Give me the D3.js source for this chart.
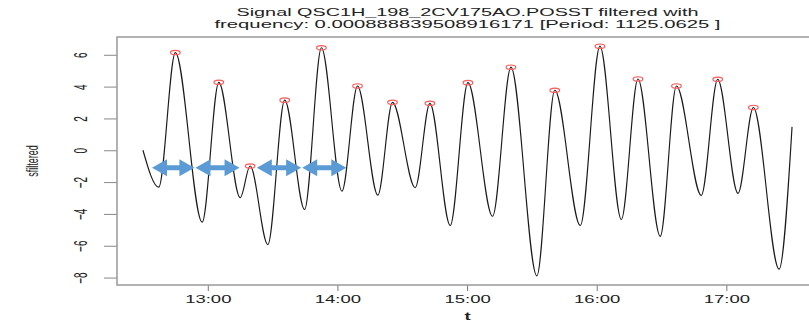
<!DOCTYPE html>
<html>
<head>
<meta charset="utf-8">
<script src="https://cdn.jsdelivr.net/npm/d3@7"></script>
<style>
  body { margin: 0; background: #fff; }
  svg { display: block; }
  text { font-family: "Liberation Sans", Arial, sans-serif; fill: #222; }
</style>
</head>
<body>
<div id="chart"></div>
<script>
// turning points of the filtered signal, minutes after 12:00
var tMinutes = [30, 37.3, 45.0, 57.4, 65.1, 75.0, 79.6, 87.8, 95.6, 104.8, 112.6,
  122.1, 129.3, 138.7, 145.5, 156.0, 162.8, 172.2, 180.4, 191.8, 200.3, 212.3,
  220.6, 232.4, 241.5, 251.4, 259.1, 269.4, 276.9, 288.4, 296.0, 305.4, 312.5,
  324.4, 330.4];
var sfiltered = [0.0, -2.32, 6.14, -4.52, 4.27, -2.98, -0.99, -5.93, 3.15, -3.72, 6.44,
  -2.57, 4.04, -2.82, 3.01, -2.35, 2.95, -4.73, 4.25, -4.15, 5.22, -7.89,
  3.77, -4.73, 6.54, -4.35, 4.48, -5.41, 4.04, -2.84, 4.46, -2.71, 2.69,
  -7.47, 1.47];

// blue period arrows (minutes after 12:00) and their level
var arrowFrom = [34.2, 54.3, 82.7, 103.7];
var arrowTo = [53.8, 74.7, 103.2, 124.1];
var arrowLevel = -1.1;

var yTicks = [-8, -6, -4, -2, 0, 2, 4, 6];
var titleLines = ['Signal QSC1H_198_2CV175AO.POSST filtered with',
  'frequency: 0.000888839508916171 [Period: 1125.0625 ]'];
var xLabel = 't', yLabel = 'sfiltered';

var width = 809, height = 322,
  box = {left: 117, right: 818, top: 37, bottom: 285},
  stretch = 1.85;

var base = new Date(2000, 0, 1, 12, 0, 0);
function toDate(m) { return new Date(base.getTime() + m * 60000); }

var data = tMinutes.map(function(m, i) {
  return {t: toDate(m), v: sfiltered[i]};
});

// R style axis padding of 4%
var tExt = d3.extent(tMinutes), vExt = d3.extent(sfiltered);
var tPad = (tExt[1] - tExt[0]) * 0.04, vPad = (vExt[1] - vExt[0]) * 0.04;

var x = d3.scaleTime()
  .domain([toDate(tExt[0] - tPad), toDate(tExt[1] + tPad)])
  .range([box.left, box.right]);
var y = d3.scaleLinear()
  .domain([vExt[0] - vPad, vExt[1] + vPad])
  .range([box.bottom, box.top]);

var svg = d3.select('#chart').append('svg')
  .attr('width', width).attr('height', height);

// title
svg.append('g').selectAll('text').data(titleLines).enter().append('text')
  .attr('x', (box.left + box.right) / 2)
  .attr('y', function(d, i) { return 16 + i * 12; })
  .attr('text-anchor', 'middle')
  .attr('font-size', 11)
  .attr('textLength', function(d, i) { return i === 0 ? 462 : 506; })
  .attr('lengthAdjust', 'spacingAndGlyphs')
  .text(function(d) { return d; });

// x axis
var xAxis = svg.append('g')
  .attr('transform', 'translate(0,' + box.bottom + ')')
  .call(d3.axisBottom(x).ticks(d3.timeHour.every(1))
    .tickFormat(d3.timeFormat('%H:%M')).tickSize(6).tickPadding(5));
xAxis.select('.domain').remove();
xAxis.selectAll('line').attr('stroke', '#777');
xAxis.selectAll('text')
  .attr('font-size', 10)
  .attr('transform', 'scale(' + stretch + ',1)')
  .style('font-family', '"Liberation Sans", Arial, sans-serif')
  .attr('fill', '#222');

// y axis, labels parallel to the axis
var yAxis = svg.append('g')
  .attr('transform', 'translate(' + box.left + ',0)')
  .call(d3.axisLeft(y).tickValues(yTicks).tickSize(13).tickFormat(d3.format('d')));
yAxis.select('.domain').remove();
yAxis.selectAll('line').attr('stroke', '#888');
yAxis.selectAll('text')
  .attr('x', null).attr('dy', null)
  .attr('text-anchor', 'middle')
  .attr('font-size', 10)
  .attr('transform', 'translate(-36,0) scale(' + stretch + ',1) rotate(-90) translate(0,3.5)')
  .style('font-family', '"Liberation Sans", Arial, sans-serif')
  .attr('fill', '#222');

// axis titles
svg.append('text')
  .attr('transform', 'translate(' + ((box.left + box.right) / 2) + ',320) scale(' + stretch + ',1)')
  .attr('text-anchor', 'middle').attr('font-size', 10).attr('font-weight', 'bold')
  .text(xLabel);
svg.append('text')
  .attr('transform', 'translate(32,' + ((box.top + box.bottom) / 2) + ') scale(' + stretch + ',1) rotate(-90) translate(0,3.5)')
  .attr('text-anchor', 'middle').attr('font-size', 9)
  .text(yLabel);

// plot box
svg.append('rect')
  .attr('x', box.left).attr('y', box.top)
  .attr('width', box.right - box.left).attr('height', box.bottom - box.top)
  .attr('fill', 'none').attr('stroke', '#999').attr('stroke-width', 1.5);

// the filtered signal
var line = d3.line()
  .x(function(d) { return x(d.t); })
  .y(function(d) { return y(d.v); })
  .curve(d3.curveMonotoneX);

svg.append('path').datum(data)
  .attr('d', line)
  .attr('fill', 'none')
  .attr('stroke', '#1a1a1a')
  .attr('stroke-width', 1.15);

// red markers on the local maxima
var peaks = data.filter(function(d, i) {
  return i > 0 && i < data.length - 1 && d.v > data[i - 1].v && d.v > data[i + 1].v;
});
svg.append('g').selectAll('ellipse').data(peaks).enter().append('ellipse')
  .attr('cx', function(d) { return x(d.t); })
  .attr('cy', function(d) { return y(d.v); })
  .attr('rx', 4.8).attr('ry', 2.2)
  .attr('fill', 'none')
  .attr('stroke', '#ff5a5a')
  .attr('stroke-width', 1.2);

// double headed arrows
var headLen = 15, headHalf = 8.5, shaftHalf = 2.4;
svg.append('g').selectAll('path').data(arrowFrom).enter().append('path')
  .attr('d', function(d, i) {
    var x0 = x(toDate(d)), x1 = x(toDate(arrowTo[i])), yc = y(arrowLevel);
    return 'M' + x0 + ',' + yc +
      'L' + (x0 + headLen) + ',' + (yc - headHalf) +
      'L' + (x0 + headLen) + ',' + (yc - shaftHalf) +
      'L' + (x1 - headLen) + ',' + (yc - shaftHalf) +
      'L' + (x1 - headLen) + ',' + (yc - headHalf) +
      'L' + x1 + ',' + yc +
      'L' + (x1 - headLen) + ',' + (yc + headHalf) +
      'L' + (x1 - headLen) + ',' + (yc + shaftHalf) +
      'L' + (x0 + headLen) + ',' + (yc + shaftHalf) +
      'L' + (x0 + headLen) + ',' + (yc + headHalf) + 'Z';
  })
  .attr('fill', '#5b9bd5');
</script>
</body>
</html>
